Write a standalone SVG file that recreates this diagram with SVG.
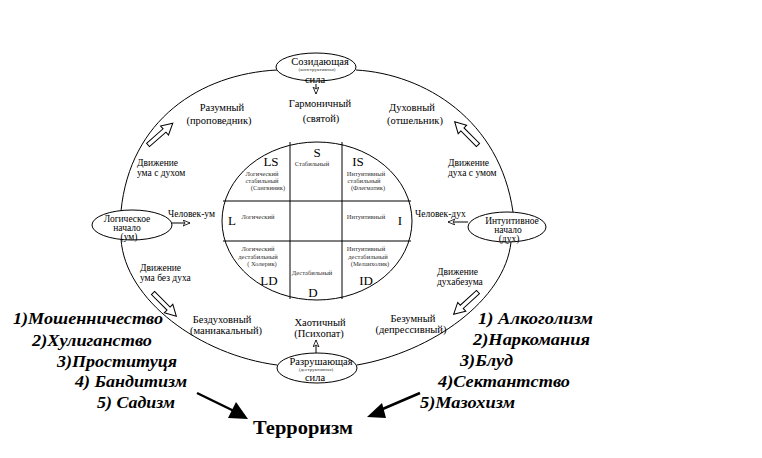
<svg xmlns="http://www.w3.org/2000/svg" width="762" height="458" viewBox="0 0 762 458">
<style>
text{font-family:"Liberation Serif","DejaVu Serif","Noto Serif",serif;fill:#000}
.m{font-size:10.5px;text-anchor:middle}
.n{font-size:9.5px;text-anchor:middle}
.l{font-size:9.5px}
.s{font-size:6.5px;text-anchor:middle;fill:#333}
.t{font-size:5px;text-anchor:middle;fill:#333}
.b{font-size:13px;text-anchor:middle}
.li{font-size:17px;font-weight:bold;font-style:italic}
.node{fill:#fff;stroke:#000;stroke-width:1}
.ln{fill:none;stroke:#000;stroke-width:1}
.blk{fill:#fff;stroke:#000;stroke-width:1}
</style>
<defs>
<marker id="ah" markerWidth="8" markerHeight="8" refX="7" refY="3" orient="auto" markerUnits="userSpaceOnUse">
<path d="M0,0 L7,3 L0,6 L2,3 Z" fill="#fff" stroke="#000" stroke-width="0.8"/>
</marker>
<path id="blkA" d="M0,-2.2 L22,-2.2 L22,-6 L33,0 L22,6 L22,2.2 L0,2.2 Z"/>
</defs>
<rect width="762" height="458" fill="#fff"/>
<g id="connectors">
<path class="ln" d="M277,70 C200,74 130,120 121,211"/>
<path class="ln" d="M121,239 C125,300 200,355 277,365"/>
<path class="ln" d="M356,70 C425,74 500,120 513,212"/>
<path class="ln" d="M511,242 C505,300 432,352 357,365"/>
<line class="ln" x1="316" y1="84" x2="316" y2="94" marker-end="url(#ah)"/>
<line class="ln" x1="316" y1="353" x2="316" y2="340" marker-end="url(#ah)"/>
<line class="ln" x1="172" y1="223" x2="190" y2="223" marker-end="url(#ah)"/>
<line class="ln" x1="468" y1="222" x2="448" y2="222" marker-end="url(#ah)"/>
<use href="#blkA" class="blk" transform="translate(148,145) rotate(-41.3)"/>
<use href="#blkA" class="blk" transform="translate(478,145) rotate(-135)"/>
<use href="#blkA" class="blk" transform="translate(153,293) rotate(45)"/>
<use href="#blkA" class="blk" transform="translate(478,292) rotate(137.6)"/>
<line x1="197" y1="393" x2="236" y2="412" stroke="#000" stroke-width="2.5"/>
<polygon points="248,419 236,402 228,418" fill="#000"/>
<line x1="420" y1="393" x2="378" y2="411" stroke="#000" stroke-width="2.5"/>
<polygon points="367,417 382,403 386,418" fill="#000"/>
</g>
<g id="center-circle">
<ellipse class="ln" cx="317" cy="221" rx="95" ry="79"/>
<line class="ln" x1="223" y1="201" x2="411" y2="201"/>
<line class="ln" x1="223" y1="241" x2="411" y2="241"/>
<line class="ln" x1="290" y1="142" x2="290" y2="299"/>
<line class="ln" x1="342" y1="142" x2="342" y2="299"/>
<text class="b" x="317" y="157">S</text>
<text class="s" x="312" y="166">Стабильный</text>
<text class="b" x="271" y="166">LS</text>
<text class="s" x="262" y="176">Логический</text>
<text class="s" x="262" y="183">стабильный</text>
<text class="s" x="268" y="190">(Сангвиник)</text>
<text class="b" x="358" y="166">IS</text>
<text class="s" x="366" y="176">Интуитивный</text>
<text class="s" x="364" y="183">стабильный</text>
<text class="s" x="368" y="190">(Флегматик)</text>
<text class="b" x="232" y="225">L</text>
<text class="s" x="258" y="219">Логический</text>
<text class="s" x="366" y="219">Интуитивный</text>
<text class="b" x="400" y="225">I</text>
<text class="s" x="258" y="251">Логический</text>
<text class="s" x="258" y="259">дестабильный</text>
<text class="s" x="262" y="266">( Холерик)</text>
<text class="b" x="269" y="285">LD</text>
<text class="s" x="312" y="275">Дестабильный</text>
<text class="b" x="313" y="297">D</text>
<text class="s" x="366" y="251">Интуитивный</text>
<text class="s" x="368" y="259">дестабильный</text>
<text class="s" x="370" y="266">(Меланхолик)</text>
<text class="b" x="366" y="285">ID</text>
</g>
<g id="node-top">
<ellipse class="node" cx="316" cy="67" rx="40" ry="14"/>
<text class="m" x="320" y="65">Созидающая</text>
<text class="t" x="317" y="71">(конструктивная)</text>
<text class="m" x="315" y="83">сила</text>
</g>
<g id="node-bottom">
<ellipse class="node" cx="317" cy="368" rx="40" ry="15"/>
<text class="m" x="321" y="365">Разрушающая</text>
<text class="t" x="316" y="371">(деструктивная)</text>
<text class="m" x="315" y="381">сила</text>
</g>
<g id="node-left">
<ellipse class="node" cx="132" cy="225" rx="40" ry="15"/>
<text class="n" x="127" y="222">Логическое</text>
<text class="n" x="127" y="231">начало</text>
<text class="n" x="129" y="240">(ум)</text>
</g>
<g id="node-right">
<ellipse class="node" cx="507" cy="227" rx="39" ry="15"/>
<text class="n" x="512" y="224">Интуитивное</text>
<text class="n" x="508" y="233">начало</text>
<text class="n" x="509" y="242">(дух)</text>
</g>
<g id="labels">
<text class="m" x="320" y="107">Гармоничный</text>
<text class="m" x="321" y="122">(святой)</text>
<text class="m" x="222" y="111">Разумный</text>
<text class="m" x="219" y="124">(проповедник)</text>
<text class="m" x="412" y="111">Духовный</text>
<text class="m" x="415" y="124">(отшельник)</text>
<text class="l" x="137" y="166">Движение</text>
<text class="l" x="137" y="176">ума с духом</text>
<text class="l" x="448" y="166">Движение</text>
<text class="l" x="448" y="176">духа с умом</text>
<text class="l" x="140" y="271">Движение</text>
<text class="l" x="140" y="281">ума без духа</text>
<text class="l" x="437" y="275">Движение</text>
<text class="l" x="437" y="285">духабезума</text>
<text class="m" x="222" y="323">Бездуховный</text>
<text class="m" x="226" y="334">(маниакальный)</text>
<text class="m" x="413" y="322">Безумный</text>
<text class="m" x="411" y="333">(депрессивный)</text>
<text class="m" x="320" y="326">Хаотичный</text>
<text class="m" x="319" y="337">(Психопат)</text>
<text class="l" x="168" y="217">Человек-ум</text>
<text class="l" x="415" y="217">Человек-дух</text>
</g>
<g id="list-left">
<text class="li" x="13" y="324" textLength="150" lengthAdjust="spacingAndGlyphs">1)Мошенничество</text>
<text class="li" x="32" y="346" textLength="120" lengthAdjust="spacingAndGlyphs">2)Хулиганство</text>
<text class="li" x="57" y="367" textLength="120" lengthAdjust="spacingAndGlyphs">3)Проституця</text>
<text class="li" x="75" y="387" textLength="112" lengthAdjust="spacingAndGlyphs">4) Бандитизм</text>
<text class="li" x="97" y="408" textLength="78" lengthAdjust="spacingAndGlyphs">5) Садизм</text>
</g>
<g id="list-right">
<text class="li" x="478" y="324" textLength="115" lengthAdjust="spacingAndGlyphs">1) Алкоголизм</text>
<text class="li" x="473" y="345" textLength="117" lengthAdjust="spacingAndGlyphs">2)Наркомания</text>
<text class="li" x="460" y="366" textLength="53" lengthAdjust="spacingAndGlyphs">3)Блуд</text>
<text class="li" x="438" y="387" textLength="132" lengthAdjust="spacingAndGlyphs">4)Сектантство</text>
<text class="li" x="420" y="408" textLength="95" lengthAdjust="spacingAndGlyphs">5)Мазохизм</text>
</g>
<g id="node-terror">
<text x="253" y="434" style="font-size:19px;font-weight:bold" textLength="100" lengthAdjust="spacingAndGlyphs">Терроризм</text>
</g>
</svg>
